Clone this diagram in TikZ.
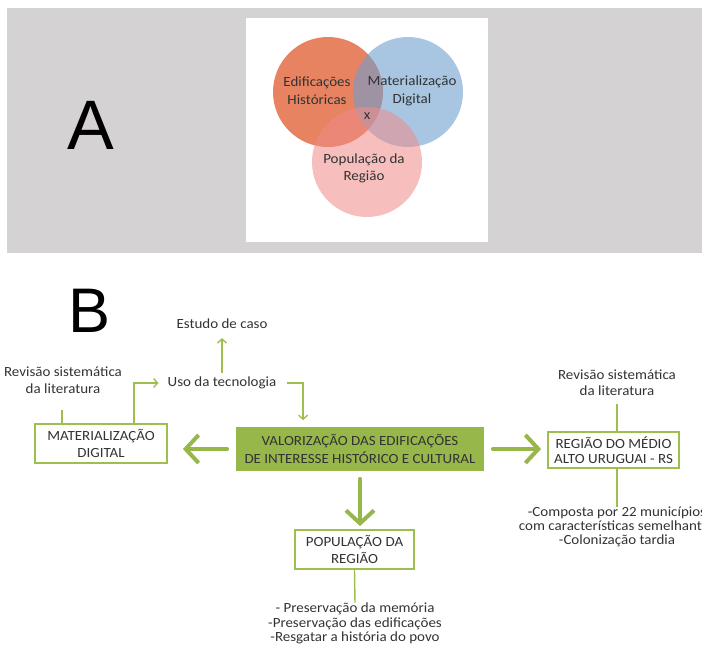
\documentclass[tikz,border=0pt]{standalone}
\usepackage{fontspec}
\setmainfont{Carlito}[FakeStretch=1.07]
\newfontfamily\letfont{Liberation Sans}
\usetikzlibrary{arrows.meta}
\definecolor{gr}{HTML}{97B74A}
\definecolor{grl}{HTML}{9CBF50}
\definecolor{tc}{HTML}{333333}
\definecolor{panel}{HTML}{D4D2D3}
\definecolor{redc}{HTML}{E05A2B}
\definecolor{bluec}{HTML}{6F9FD0}
\definecolor{pinkc}{HTML}{F08C8A}
\begin{document}
\begin{tikzpicture}[x=1pt,y=-1pt,
  txt/.style={font=\fontsize{14}{17}\selectfont, text=tc, align=center, inner sep=0pt},
  box/.style={draw=grl, line width=1.8pt, fill=white, text=tc, align=center, inner sep=0pt, font=\fontsize{14}{17.5}\selectfont},
  thinline/.style={draw=grl, line width=1.4pt},
  thinarrow/.style={thinline, -{Straight Barb[length=4pt,width=9pt]}},
  bigarrow/.style={draw=gr, line width=4pt, line cap=round, -{Straight Barb[length=13pt,width=28pt]}}]
\useasboundingbox (0,0) rectangle (702,653);
% Panel A
\fill[panel] (7,8) rectangle (702,253);
\fill[white] (246,18) rectangle (488,242);
\fill[redc, fill opacity=.75] (328,92) circle[radius=55pt];
\fill[bluec, fill opacity=.6] (408,92) circle[radius=55pt];
\fill[pinkc, fill opacity=.55] (367,162) circle[radius=55pt];
\node[txt, font=\fontsize{14}{18}\selectfont] (edif) at (317,91) {Edificações\\Históricas};
\node[txt, font=\fontsize{14}{18}\selectfont] (matd) at (412,91) {Materialização\\Digital};
\node[txt] (xx) at (367,116) {x};
\node[txt] (popr) at (364,168.5) {População da\\Região};
\node[font=\letfont\fontsize{70}{70}\selectfont, text=black, inner sep=0pt] (la) at (91,125) {A};
% Panel B
\node[font=\letfont\fontsize{63}{63}\selectfont, text=black, inner sep=0pt] (lb) at (90,310.5) {B};
\node[box, minimum width=132pt, minimum height=39pt] (mat) at (101,443.5) {MATERIALIZAÇÃO\\DIGITAL};
\node[box, draw=gr, fill=gr, minimum width=246pt, minimum height=42pt] (val) at (360,449) {VALORIZAÇÃO DAS EDIFICAÇÕES\\DE INTERESSE HISTÓRICO E CULTURAL};
\node[box, minimum width=131pt, minimum height=36pt, font=\fontsize{14}{15.5}\selectfont] (reg) at (613.5,450) {REGIÃO DO MÉDIO\\ALTO URUGUAI - RS};
\node[box, minimum width=119pt, minimum height=39pt] (pop) at (354.5,549.5) {POPULAÇÃO DA\\REGIÃO};
\node[txt] (revL) at (63,380.5) {Revisão sistemática\\da literatura};
\node[txt] (est) at (222,324) {Estudo de caso};
\node[txt] (uso) at (222,383) {Uso da tecnologia};
\node[txt, font=\fontsize{14}{16}\selectfont] (revR) at (617,383) {Revisão sistemática\\da literatura};
\node[txt, font=\fontsize{14}{14}\selectfont] (comp) at (617,527) {-Composta por 22 municípios\\com características semelhantes\\-Colonização tardia};
\node[txt, font=\fontsize{14}{14.5}\selectfont] (poptxt) at (355,623.5) {- Preservação da memória\\-Preservação das edificações\\-Resgatar a história do povo};
% connectors
\draw[thinline, shorten >=16pt] ([xshift=28pt]mat.north west) -- ([xshift=28pt]mat.north west |- revL.south);
\draw[thinarrow] ([xshift=-34pt]mat.north east) |- ([xshift=-9pt]uso.west);
\draw[thinarrow, shorten <=4pt, shorten >=9pt] (uso.north) -- (est.south);
\draw[thinarrow, shorten >=7pt] ([xshift=10pt]uso.east) -| ([xshift=67pt]val.north west);
\draw[thinline, shorten <=8pt] (revR.south) -- (revR.south |- reg.north);
\draw[thinline] (reg.south -| comp.north) -- (comp.north);
\draw[thinline] (pop.south) -- (poptxt.north);
\draw[bigarrow, shorten <=9pt, shorten >=15pt] (val.west) -- (val.west -| mat.east);
\draw[bigarrow, shorten <=9pt, shorten >=6pt] (val.east) -- (val.east -| reg.west);
\draw[bigarrow, shorten <=8pt, shorten >=3pt] (val.south) -- (val.south |- pop.north);
\end{tikzpicture}
\end{document}
